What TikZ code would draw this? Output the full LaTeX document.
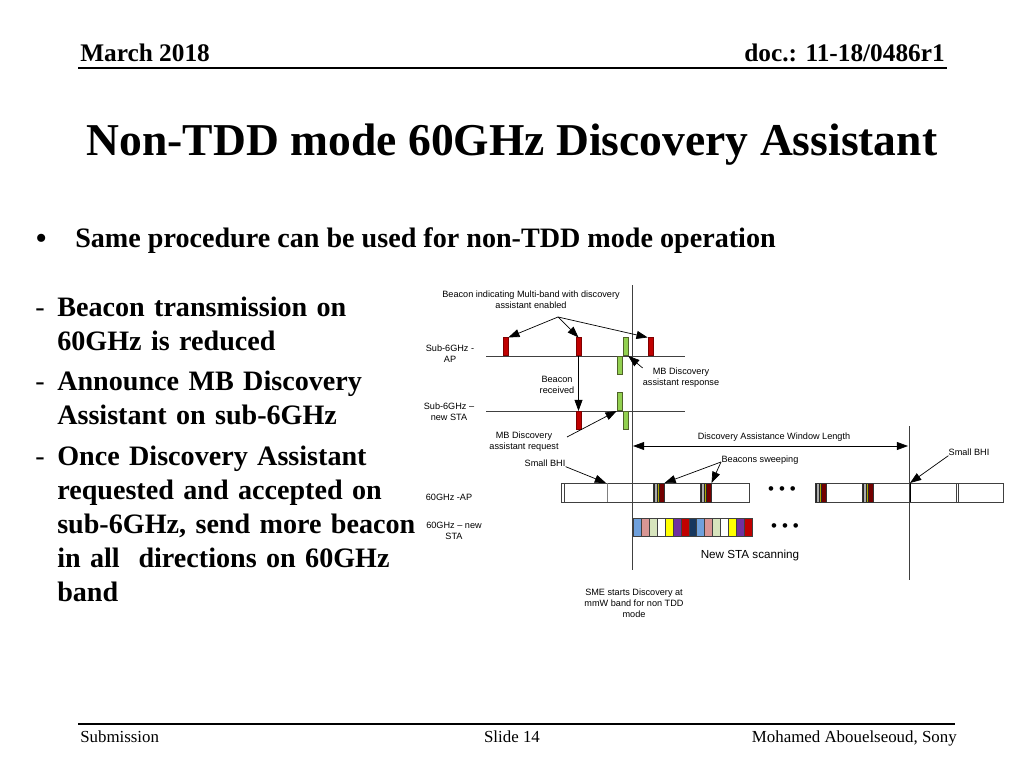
\documentclass[tikz,border=0pt]{standalone}
\usepackage{fontspec}
\setmainfont{Liberation Serif}
\setsansfont{Liberation Sans}
\usetikzlibrary{arrows.meta,positioning,calc}
\definecolor{bcnRed}{HTML}{C00000}
\definecolor{bcnRedDark}{HTML}{7F0000}
\definecolor{rspGreen}{HTML}{92D050}
\definecolor{rspGreenDark}{HTML}{4F6228}
\definecolor{axisGray}{HTML}{404040}
\definecolor{scanBlue}{HTML}{6FA0DC}
\definecolor{scanPink}{HTML}{D99694}
\definecolor{scanSage}{HTML}{D7E4BD}
\definecolor{scanYellow}{HTML}{FFFF00}
\definecolor{scanPurple}{HTML}{7030A0}
\definecolor{scanRed}{HTML}{C00000}
\definecolor{scanNavy}{HTML}{17375E}
\tikzset{
  headText/.style={font=\fontsize{18}{21}\selectfont\bfseries, inner sep=0},
  titleText/.style={font=\fontsize{32.4}{38}\selectfont\bfseries, inner sep=0},
  bodyText/.style={font=\fontsize{20}{24.3}\selectfont\bfseries, inner sep=0, align=left},
  footText/.style={font=\fontsize{12}{14}\selectfont, inner sep=0},
  diaLabel/.style={font=\sffamily\fontsize{6.5}{7.8}\selectfont, align=center, inner sep=0},
  redBar/.style={draw=bcnRedDark, fill=bcnRed, line width=0.4pt, minimum width=3.6pt, minimum height=12.8pt, inner sep=0},
  greenBar/.style={draw=rspGreenDark, fill=rspGreen, line width=0.4pt, minimum width=3.6pt, minimum height=12.8pt, inner sep=0},
  sweepBar/.style={draw=black!80, fill=black!85, line width=0.4pt, minimum width=7.8pt, minimum height=13.5pt, inner sep=0, anchor=north west,
    path picture={
      \fill[gray!65] ([xshift=1.4pt]path picture bounding box.south west) rectangle ([xshift=2.9pt]path picture bounding box.north west);
      \fill[olive!70!yellow] ([xshift=3.5pt]path picture bounding box.south west) rectangle ([xshift=4.2pt]path picture bounding box.north west);
      \fill[red!45!black] ([xshift=5.1pt]path picture bounding box.south west) rectangle (path picture bounding box.north east);
    }},
  scanCell/.style={draw=axisGray, line width=0.4pt, minimum width=5.64pt, minimum height=12.8pt, inner sep=0, anchor=north west},
  scanDots/.style={font=\sffamily\fontsize{12}{12}\selectfont, inner sep=0},
  timeLine/.style={draw=axisGray, line width=0.6pt},
  stripLine/.style={draw=axisGray, line width=0.6pt},
  noteArrow/.style={-{Triangle[length=2.8mm,width=2mm]}, line width=0.5pt},
  winArrow/.style={{Triangle[length=2.8mm,width=2mm]}-{Triangle[length=2.8mm,width=2mm]}, line width=0.5pt}
}

\begin{document}
\begin{tikzpicture}[x=0.025cm, y=-0.025cm]
  \useasboundingbox[fill=white] (0,0) rectangle (1024,768);

  % slide frame
  \node[headText, anchor=base west] (date) at (80,62) {March 2018};
  \node[headText, anchor=base east] (docnum) at (945,62) {doc.: 11-18/0486r1};
  \draw[line width=1.1pt] (78,68) -- (947,68);
  \node[titleText, anchor=base] (title) at (512,156) {Non-TDD mode 60GHz Discovery Assistant};
  \node[bodyText, font=\fontsize{24}{24}\selectfont, anchor=base west] (dotS) at (35,249) {\textbullet};
  \node[bodyText, anchor=base west] (same) at (75,247) {Same procedure can be used for non-TDD mode operation};

  \node[footText, font=\fontsize{20}{24}\selectfont, anchor=base west] (dashA) at (35,316) {-};
  \node[bodyText, anchor=base west, text width=300pt] (itemA) at (57,316) {Beacon transmission on\\60GHz is reduced};
  \node[footText, font=\fontsize{20}{24}\selectfont, anchor=base west] (dashB) at (35,390) {-};
  \node[bodyText, anchor=base west, text width=300pt] (itemB) at (57,390) {Announce MB Discovery\\Assistant on sub-6GHz};
  \node[footText, font=\fontsize{20}{24}\selectfont, anchor=base west] (dashC) at (35,465) {-};
  \node[bodyText, anchor=base west, text width=300pt] (itemC) at (57,465) {Once Discovery Assistant\\requested and accepted on\\sub-6GHz, send more beacon\\in all\ \ directions on 60GHz\\band};

  \draw[line width=1.1pt] (78,724) -- (955,724);
  \node[footText, anchor=base west] (sub) at (80,742) {Submission};
  \node[footText, anchor=base] (slide) at (512,742) {Slide 14};
  \node[footText, anchor=base east] (author) at (957,742) {Mohamed Abouelseoud, Sony};

  % time axes
  \coordinate (smeTop) at (632,285);
  \coordinate (smeBot) at (632,570);
  \coordinate (winTop) at (909,426);
  \coordinate (winBot) at (909,580);
  \draw[timeLine] (smeTop) -- (smeBot);
  \draw[timeLine] (winTop) -- (winBot);
  \draw[timeLine] (486,356) -- (685,356);
  \draw[timeLine] (486,411) -- (685,411);

  % sub-6GHz frames
  \node[redBar, anchor=south] (apR1) at (505.5,356) {};
  \node[redBar, anchor=south] (apR2) at (578.5,356) {};
  \node[greenBar, anchor=south] (apG1) at (625.5,356) {};
  \node[greenBar, anchor=north] (apG2) at (619.5,356) {};
  \node[redBar, anchor=south] (apR3) at (650.5,356) {};
  \node[redBar, anchor=north] (staR1) at (578.5,411) {};
  \node[greenBar, anchor=south] (staG1) at (619.5,411) {};
  \node[greenBar, anchor=north] (staG2) at (625.5,411) {};

  % 60GHz AP frames
  \draw[stripLine] (561,483) rectangle (749,502);
  \draw[stripLine] (564,483) -- (564,502);
  \draw[stripLine, draw=gray, line width=1.2pt] (607.5,483) -- (607.5,502);
  \node[sweepBar] (sweepA1) at (653,483) {};
  \node[sweepBar] (sweepA2) at (700,483) {};
  \draw[stripLine] (815,483) rectangle (1003,502);
  \node[sweepBar] (sweepB1) at (815,483) {};
  \node[sweepBar] (sweepB2) at (862,483) {};
  \draw[stripLine, draw=black, line width=1.4pt] (910.5,483) -- (910.5,502);
  \draw[stripLine] (956.5,483) -- (956.5,502);
  \draw[stripLine] (958.5,483) -- (958.5,502);
  \coordinate (tipBhiA) at (606,483);
  \coordinate (tipBhiB) at (910,483);
  \node[scanDots] (dotsAp) at (782,491) {\textbullet\hspace{3.5pt}\textbullet\hspace{3.5pt}\textbullet};

  % 60GHz STA scanning
  \foreach \col [count=\i from 0] in {scanBlue,scanPink,scanSage,white,scanYellow,scanPurple,scanRed,scanNavy,scanBlue,scanPink,scanSage,white,scanYellow,scanPurple,scanRed}
    \node[scanCell, fill=\col] (scan\i) at ({633+7.93*\i},518) {};
  \node[scanDots] (dotsSta) at (785,528) {\textbullet\hspace{3.5pt}\textbullet\hspace{3.5pt}\textbullet};

  % labels
  \node[diaLabel] (lblBcn) at (531,300) {Beacon indicating Multi-band with discovery\\assistant enabled};
  \node[diaLabel] (lblAp) at (450,354) {Sub-6GHz -\\AP};
  \node[diaLabel] (lblSta) at (449,412) {Sub-6GHz --\\new STA};
  \node[diaLabel] (lblRcv) at (557,385) {Beacon\\received};
  \node[diaLabel] (lblResp) at (681,378) {MB Discovery\\assistant response};
  \node[diaLabel] (lblReq) at (524,442) {MB Discovery\\assistant request};
  \node[diaLabel] (lblBhiA) at (545,463) {Small BHI};
  \node[diaLabel] (lblWin) at (774,437) {Discovery Assistance Window Length};
  \node[diaLabel] (lblSweep) at (760,460) {Beacons sweeping};
  \node[diaLabel] (lblBhiB) at (969,452) {Small BHI};
  \node[diaLabel] (lblGhzAp) at (449,497) {60GHz -AP};
  \node[diaLabel] (lblGhzSta) at (454,531) {60GHz -- new\\STA};
  \node[diaLabel, font=\sffamily\fontsize{8.3}{10}\selectfont] (lblScan) at (750,555) {New STA scanning};
  \node[diaLabel] (lblSme) at (634,603) {SME starts Discovery at\\mmW band for non TDD\\mode};

  % connectors
  \coordinate (bcnFan) at (558,317);
  \coordinate (reqFrom) at (567,437);
  \coordinate (sweepFrom) at (721,462);
  \coordinate (winL) at (633,446);
  \coordinate (winR) at (908,446);
  \draw[noteArrow] (bcnFan) -- (apR1.north east);
  \draw[noteArrow] (bcnFan) -- (apR2.north);
  \draw[noteArrow] (bcnFan) -- (apR3.north west);
  \draw[noteArrow] (apR2.south) -- (staR1.north);
  \draw[noteArrow] (reqFrom) -- (staG1.south west);
  \draw[noteArrow] (lblResp.north west) -- (apG1.south east);
  \draw[winArrow] (winL) -- (winR);
  \draw[noteArrow] (lblBhiA.south east) -- (tipBhiA);
  \draw[noteArrow] (sweepFrom) -- (sweepA1.north east);
  \draw[noteArrow] (sweepFrom) -- (sweepA2.north east);
  \draw[noteArrow] (lblBhiB.south west) -- (tipBhiB);
\end{tikzpicture}
\end{document}
